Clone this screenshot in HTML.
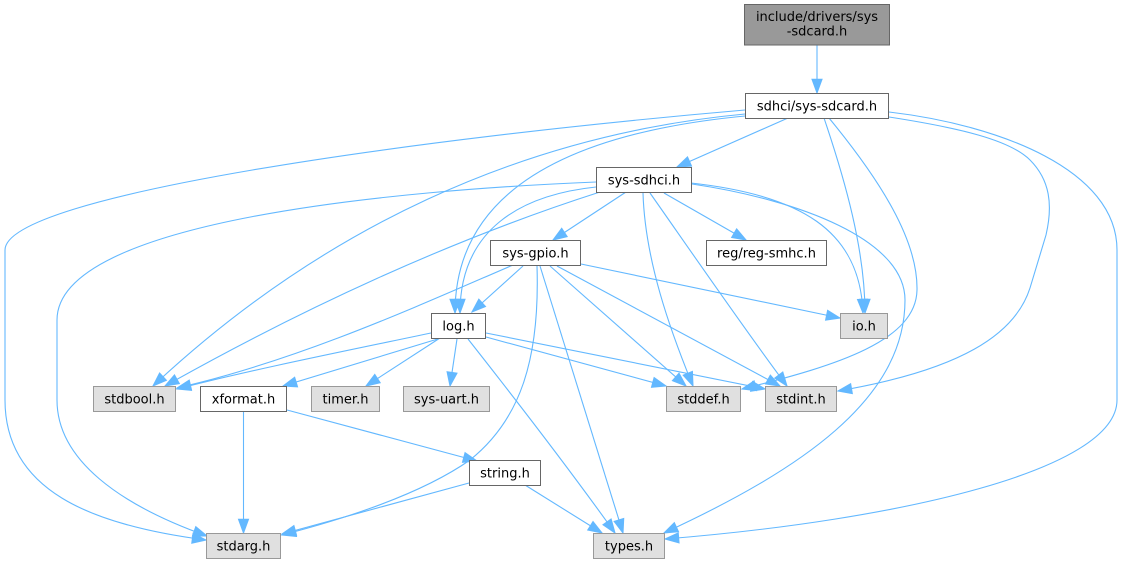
<!DOCTYPE html>
<html><head><meta charset="utf-8"><style>
html,body{margin:0;padding:0;background:#fff;}
svg{display:block;}
text{font-family:"DejaVu Sans","Liberation Sans",sans-serif;font-size:13px;fill:#000;}
.e{fill:none;stroke:#63b8ff;stroke-width:1.1;}
.w{fill:#fff;stroke:#666;stroke-width:1;}
.g{fill:#e0e0e0;stroke:#999;stroke-width:1;}
.t{fill:#999;stroke:#666;stroke-width:1;}
</style></head><body>
<svg width="1123" height="564" viewBox="0 0 1123 564" xmlns="http://www.w3.org/2000/svg">
<defs>
<marker id="a" markerUnits="userSpaceOnUse" markerWidth="14" markerHeight="10" refX="13" refY="4.75" orient="auto" viewBox="0 0 13 9.5" overflow="visible">
<path d="M0,0 L13,4.75 L0,9.5 Z" fill="#63b8ff" stroke="#63b8ff" stroke-width="1"/>
</marker>
</defs>
<g marker-end="url(#a)">
<path class="e" marker-end="url(#a)" d="M817,45 L817,93"/>
<path class="e" marker-end="url(#a)" d="M788,118 L677,167"/>
<path class="e" marker-end="url(#a)" d="M745,116 C600,130 455,175 455,313"/>
<path class="e" marker-end="url(#a)" d="M745,114 C520,135 320,230 153,386"/>
<path class="e" marker-end="url(#a)" d="M745,110 C420,138 5,195 5,250 L5,400 C5,490 90,525 206,540"/>
<path class="e" marker-end="url(#a)" d="M824,118 C845,180 865,250 865,313"/>
<path class="e" marker-end="url(#a)" d="M829,118 C880,180 918,240 917,290 C916,340 840,365 742,389"/>
<path class="e" marker-end="url(#a)" d="M889,117 C960,128 1010,140 1030,160 C1050,180 1053,205 1046,235 L1030,288 C1015,335 960,370 838,391"/>
<path class="e" marker-end="url(#a)" d="M889,112 C1000,125 1117,170 1117,250 L1117,400 C1117,470 900,520 665,539"/>
<path class="e" marker-end="url(#a)" d="M626,192 L553,240"/>
<path class="e" marker-end="url(#a)" d="M664,193 L746,240"/>
<path class="e" marker-end="url(#a)" d="M596,187 C520,195 460,230 460,313"/>
<path class="e" marker-end="url(#a)" d="M600,192 C450,240 300,310 165,386"/>
<path class="e" marker-end="url(#a)" d="M596,182 C400,190 57,220 57,320 L57,400 C57,460 120,505 207,536"/>
<path class="e" marker-end="url(#a)" d="M691,183 C800,195 860,230 863,313"/>
<path class="e" marker-end="url(#a)" d="M643,193 C645,260 670,330 693,386"/>
<path class="e" marker-end="url(#a)" d="M650,193 C690,250 745,330 787,386"/>
<path class="e" marker-end="url(#a)" d="M692,184 C800,200 905,240 905,300 C905,400 800,470 664,533"/>
<path class="e" marker-end="url(#a)" d="M523,266 L472,312"/>
<path class="e" marker-end="url(#a)" d="M513,265 C420,305 300,360 177,388"/>
<path class="e" marker-end="url(#a)" d="M537,266 C540,360 520,420 470,460 C420,495 340,520 282,535"/>
<path class="e" marker-end="url(#a)" d="M581,264 L840,318"/>
<path class="e" marker-end="url(#a)" d="M550,266 L686,386"/>
<path class="e" marker-end="url(#a)" d="M557,266 L780,386"/>
<path class="e" marker-end="url(#a)" d="M540,266 L623,533"/>
<path class="e" marker-end="url(#a)" d="M431,333 C350,350 250,370 177,389"/>
<path class="e" marker-end="url(#a)" d="M441,338 L283,386"/>
<path class="e" marker-end="url(#a)" d="M440,338 L366,386"/>
<path class="e" marker-end="url(#a)" d="M457,339 L450,386"/>
<path class="e" marker-end="url(#a)" d="M468,339 C520,405 570,470 615,533"/>
<path class="e" marker-end="url(#a)" d="M486,337 L666,386"/>
<path class="e" marker-end="url(#a)" d="M486,333 L765,389"/>
<path class="e" marker-end="url(#a)" d="M243.5,411 L243.5,533"/>
<path class="e" marker-end="url(#a)" d="M287,410 L477,461"/>
<path class="e" marker-end="url(#a)" d="M469,483 L282,534"/>
<path class="e" marker-end="url(#a)" d="M525,485 L602,533"/>
</g>

<rect class="t" x="744.5" y="4.5" width="145" height="40.5"/>
<text x="817" y="21" text-anchor="middle">include/drivers/sys</text>
<text x="817" y="35.5" text-anchor="middle">-sdcard.h</text>

<rect class="w" x="745.5" y="93.5" width="143" height="25"/>
<text x="817" y="110.5" text-anchor="middle">sdhci/sys-sdcard.h</text>

<rect class="w" x="596.5" y="167.5" width="95" height="25"/>
<text x="644" y="184.5" text-anchor="middle">sys-sdhci.h</text>

<rect class="w" x="706.5" y="240.5" width="120" height="25"/>
<text x="766.5" y="257.5" text-anchor="middle">reg/reg-smhc.h</text>

<rect class="w" x="490.5" y="240.5" width="90" height="25"/>
<text x="535.5" y="257.5" text-anchor="middle">sys-gpio.h</text>

<rect class="w" x="431.5" y="313.5" width="54" height="25"/>
<text x="458.5" y="330.5" text-anchor="middle">log.h</text>

<rect class="g" x="840.5" y="313.5" width="47" height="25"/>
<text x="864" y="330.5" text-anchor="middle">io.h</text>

<rect class="g" x="93.5" y="386.5" width="82" height="25"/>
<text x="134.5" y="403.5" text-anchor="middle">stdbool.h</text>

<rect class="w" x="200.5" y="386.5" width="86" height="25"/>
<text x="243.5" y="403.5" text-anchor="middle">xformat.h</text>

<rect class="g" x="311.5" y="386.5" width="68" height="25"/>
<text x="345.5" y="403.5" text-anchor="middle">timer.h</text>

<rect class="g" x="403.5" y="386.5" width="86" height="25"/>
<text x="446.5" y="403.5" text-anchor="middle">sys-uart.h</text>

<rect class="g" x="666.5" y="386.5" width="74" height="25"/>
<text x="703.5" y="403.5" text-anchor="middle">stddef.h</text>

<rect class="g" x="765.5" y="386.5" width="71" height="25"/>
<text x="801" y="403.5" text-anchor="middle">stdint.h</text>

<rect class="w" x="469.5" y="460.5" width="71" height="25"/>
<text x="505" y="477.5" text-anchor="middle">string.h</text>

<rect class="g" x="206.5" y="533.5" width="74" height="25"/>
<text x="243.5" y="550.5" text-anchor="middle">stdarg.h</text>

<rect class="g" x="593.5" y="533.5" width="71" height="25"/>
<text x="629" y="550.5" text-anchor="middle">types.h</text>
</svg>
</body></html>
